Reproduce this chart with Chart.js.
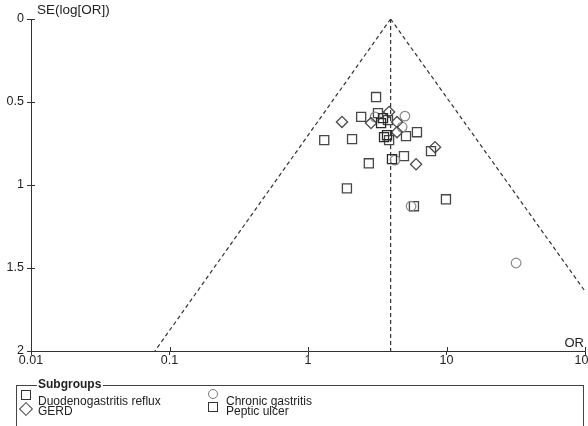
<!DOCTYPE html>
<html><head><meta charset="utf-8">
<script src="https://cdn.jsdelivr.net/npm/chart.js@4.4.1/dist/chart.umd.min.js"></script>
<style>
html,body{margin:0;padding:0;background:#fff;overflow:hidden;width:588px;height:426px;font-family:"Liberation Sans",Arial,sans-serif;color:#222;}
#wrap{position:absolute;left:0;top:0;width:600px;height:426px;}
#lbox{position:absolute;left:16px;top:385px;width:568px;height:80px;border:1px solid #444;box-sizing:border-box;}
#ltitle{position:absolute;left:37px;top:377px;font-weight:bold;font-size:12px;line-height:15px;background:#fff;padding:0 2px 0 1px;}
.it{position:absolute;font-size:12px;line-height:14px;white-space:nowrap;}
.ic{position:absolute;box-sizing:border-box;}
</style></head>
<body>
<div id="wrap"><canvas id="c" width="600" height="426"></canvas></div>
<div id="lbox"></div>
<div id="ltitle">Subgroups</div>
<div class="ic" style="left:21px;top:390px;width:10px;height:10px;border:1.3px solid #333;"></div>
<div class="it" style="left:38px;top:394px;">Duodenogastritis reflux</div>
<div class="ic" style="left:21px;top:404px;width:10px;height:10px;border:1.3px solid #444;transform:rotate(45deg);"></div>
<div class="it" style="left:38px;top:404px;">GERD</div>
<div class="ic" style="left:208px;top:389px;width:10px;height:10px;border:1.2px solid #777;border-radius:50%;"></div>
<div class="it" style="left:226px;top:394px;">Chronic gastritis</div>
<div class="ic" style="left:208px;top:402px;width:10px;height:10px;border:1.3px solid #333;"></div>
<div class="it" style="left:226px;top:404px;">Peptic ulcer</div>
<script>
// ---- data ----
const xTickValues = [0.01, 0.1, 1, 10, 100];
const xTickLabels = ['0.01', '0.1', '1', '10', '100'];
const yTickValues = [0, 0.5, 1, 1.5, 2];
const yTickLabels = ['0', '0.5', '1', '1.5', '2'];

const duodenoOR = [3.72, 3.54, 4.04, 3.37, 3.48];
const duodenoSE = [0.70, 0.712, 0.844, 0.627, 0.597];

const gerdOR = [1.76, 3.85, 2.85, 4.39, 4.39, 8.26, 6.03];
const gerdSE = [0.62, 0.56, 0.627, 0.621, 0.682, 0.772, 0.875];

const chronicOR = [5.01, 3.05, 4.78, 4.25, 5.55, 31.8];
const chronicSE = [0.585, 0.59, 0.651, 0.85, 1.128, 1.47];

const pepticOR = [3.10, 2.42, 3.20, 3.78, 6.12, 5.10, 3.85, 1.31, 2.08, 7.73, 4.93, 2.75, 1.91, 9.91, 5.82];
const pepticSE = [0.47, 0.59, 0.567, 0.609, 0.682, 0.706, 0.73, 0.73, 0.724, 0.796, 0.826, 0.869, 1.02, 1.086, 1.128];

const pooledLineOR = [3.95, 3.95];
const pooledLineSE = [0, 2];
const funnelLeftOR = [3.95, 0.0785];
const funnelLeftSE = [0, 2];
const funnelRightOR = [3.95, 100];
const funnelRightSE = [0, 1.64];

const pts = (xs, ys) => xs.map((x, i) => ({x: x, y: ys[i]}));

const FONT = '"Liberation Sans", Arial, sans-serif';
Chart.defaults.font.family = FONT;
Chart.defaults.color = '#222';

const extras = {
  id: 'extras',
  afterDraw(chart) {
    const ctx = chart.ctx, xs = chart.scales.x, ys = chart.scales.y;
    const ca = chart.chartArea;
    ctx.save();
    ctx.strokeStyle = '#333';
    ctx.lineWidth = 1;
    ctx.beginPath();
    xTickValues.forEach(v => {
      const p = Math.round(xs.getPixelForValue(v)) + 0.5;
      ctx.moveTo(p, ca.bottom); ctx.lineTo(p, ca.bottom - 4);
    });
    yTickValues.forEach(v => {
      const p = Math.round(ys.getPixelForValue(v)) + 0.5;
      ctx.moveTo(ca.left, p); ctx.lineTo(ca.left + 4, p);
    });
    ctx.stroke();
    ctx.fillStyle = '#222';
    ctx.font = '13.5px ' + FONT;
    ctx.textBaseline = 'middle';
    ctx.textAlign = 'left';
    ctx.fillText('SE(log[OR])', 37, 10);
    ctx.font = '13px ' + FONT;
    ctx.textAlign = 'right';
    ctx.fillText('OR', 584, 343);
    ctx.restore();
  }
};

const markerBase = {backgroundColor: 'rgba(0,0,0,0)', pointHoverRadius: 0};
const lineBase = {showLine: true, pointRadius: 0, borderColor: '#333', borderWidth: 1.2, borderDash: [4, 3], fill: false, order: 10};

new Chart(document.getElementById('c'), {
  type: 'scatter',
  data: {
    datasets: [
      Object.assign({label: 'Duodenogastritis reflux', data: pts(duodenoOR, duodenoSE), pointStyle: 'rect', pointRadius: 6.4, borderColor: '#2a2a2a', borderWidth: 1.3, order: 1}, markerBase),
      Object.assign({label: 'GERD', data: pts(gerdOR, gerdSE), pointStyle: 'rectRot', pointRadius: 5.6, borderColor: '#4a4a4a', borderWidth: 1.3, order: 2}, markerBase),
      Object.assign({label: 'Chronic gastritis', data: pts(chronicOR, chronicSE), pointStyle: 'circle', pointRadius: 4.8, borderColor: '#8a8a8a', borderWidth: 1.2, order: 3}, markerBase),
      Object.assign({label: 'Peptic ulcer', data: pts(pepticOR, pepticSE), pointStyle: 'rect', pointRadius: 6.4, borderColor: '#474747', borderWidth: 1.3, order: 4}, markerBase),
      Object.assign({label: 'pooled', data: pts(pooledLineOR, pooledLineSE)}, lineBase),
      Object.assign({label: 'left', data: pts(funnelLeftOR, funnelLeftSE)}, lineBase),
      Object.assign({label: 'right', data: pts(funnelRightOR, funnelRightSE)}, lineBase)
    ]
  },
  options: {
    responsive: false,
    devicePixelRatio: 1,
    animation: false,
    layout: {padding: {top: 19, right: 15, left: 0, bottom: 0}},
    plugins: {legend: {display: false}, tooltip: {enabled: false}},
    scales: {
      x: {
        type: 'logarithmic', min: 0.01, max: 100,
        afterBuildTicks: s => { s.ticks = xTickValues.map(v => ({value: v})); },
        afterFit: s => { s.height = 75; },
        ticks: {
          autoSkip: false, maxRotation: 0, padding: -2,
          font: {size: 12.5}, color: '#222',
          callback: (v) => { const i = xTickValues.indexOf(v); return i >= 0 ? xTickLabels[i] : ''; }
        },
        grid: {display: true, drawOnChartArea: false, drawTicks: true, tickLength: 4, color: '#333'},
        border: {display: true, color: '#333', width: 1}
      },
      y: {
        type: 'linear', min: 0, max: 2, reverse: true,
        afterBuildTicks: s => { s.ticks = yTickValues.map(v => ({value: v})); },
        afterFit: s => { s.width = 31; },
        ticks: {
          autoSkip: false, padding: 3,
          font: {size: 12.5}, color: '#222',
          callback: (v) => { const i = yTickValues.indexOf(v); return i >= 0 ? yTickLabels[i] : ''; }
        },
        grid: {display: true, drawOnChartArea: false, drawTicks: true, tickLength: 4, color: '#333'},
        border: {display: true, color: '#333', width: 1}
      }
    }
  },
  plugins: [extras]
});
</script>
</body></html>
